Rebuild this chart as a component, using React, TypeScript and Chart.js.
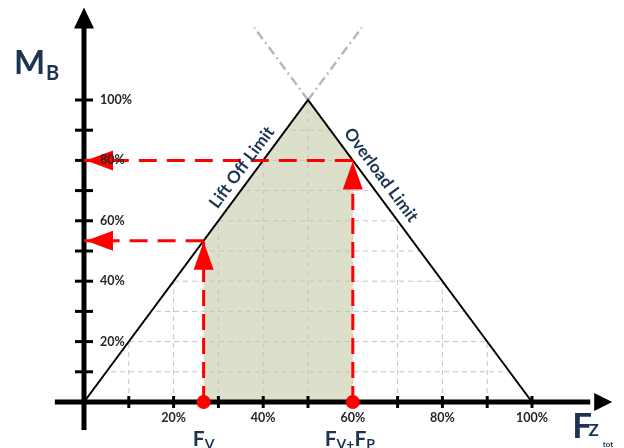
import React, { useEffect, useRef } from 'react';
import Chart from 'chart.js/auto';

// ---- data ----
const xTickMarks = [10, 20, 30, 40, 50, 60, 70, 80, 90, 100];
const yTickMarks = [10, 20, 30, 40, 50, 60, 70, 80, 90, 100];
const xLabelValues = [20, 40, 60, 80, 100];
const xLabels = ['20%', '40%', '60%', '80%', '100%'];
const yLabelValues = [20, 40, 60, 80, 100];
const yLabels = ['20%', '40%', '60%', '80%', '100%'];
const gridX = [10, 20, 30, 40, 50, 60, 70, 80, 90];
const gridY = [10, 20, 30, 40, 50, 60, 70, 80, 90];

const limitTriangle = [
  { x: 0, y: 0 },
  { x: 50, y: 100 },
  { x: 100, y: 0 },
];
const liftOffExtension = [
  { x: 50, y: 100 },
  { x: 62, y: 124 },
];
const overloadExtension = [
  { x: 50, y: 100 },
  { x: 38, y: 124 },
];

const fv = 26.7;
const fvMoment = 53.4;
const fvp = 60;
const fvpMoment = 80;

const shadedArea = [
  { x: fv, y: 0 },
  { x: fv, y: fvMoment },
  { x: 50, y: 100 },
  { x: fvp, y: fvpMoment },
  { x: fvp, y: 0 },
];
const fvVertical = [
  { x: fv, y: 0 },
  { x: fv, y: fvMoment },
];
const fvHorizontal = [
  { x: fv, y: fvMoment },
  { x: 0, y: fvMoment },
];
const fvpVertical = [
  { x: fvp, y: 0 },
  { x: fvp, y: fvpMoment },
];
const fvpHorizontal = [
  { x: fvp, y: fvpMoment },
  { x: 0, y: fvpMoment },
];
const loadDots = [
  { x: fv, y: 0 },
  { x: fvp, y: 0 },
];

const liftOffLabelAt = { x: 37.55, y: 75.1 };
const overloadLabelAt = { x: 63.8, y: 72.4 };

const NAVY = '#1c3352';
const RED = '#ff0000';
const LABEL_FONT = 'Lato, "Open Sans", sans-serif';

export default function App() {
  const ref = useRef<HTMLCanvasElement | null>(null);

  useEffect(() => {
    document.body.style.margin = '0';
    const canvas = ref.current;
    if (!canvas) return;

    const decor = {
      id: 'decor',
      afterDatasetDraw(chart: any, args: any) {
        const ctx = chart.ctx;
        const xs = chart.scales.x;
        const ys = chart.scales.y;
        const px = (v: number) => xs.getPixelForValue(v);
        const py = (v: number) => ys.getPixelForValue(v);
        if (args.index === 0) {
          // grid, clipped to triangle
          ctx.save();
          ctx.beginPath();
          ctx.moveTo(px(limitTriangle[0].x), py(limitTriangle[0].y));
          for (const p of limitTriangle.slice(1)) ctx.lineTo(px(p.x), py(p.y));
          ctx.closePath();
          ctx.clip();
          ctx.strokeStyle = '#c4c4c4';
          ctx.lineWidth = 1;
          ctx.setLineDash([5, 4]);
          for (const g of gridX) {
            ctx.beginPath();
            ctx.moveTo(px(g), py(0));
            ctx.lineTo(px(g), py(100));
            ctx.stroke();
          }
          for (const g of gridY) {
            ctx.beginPath();
            ctx.moveTo(px(0), py(g));
            ctx.lineTo(px(100), py(g));
            ctx.stroke();
          }
          ctx.restore();
        }
        if (args.index === 1) {
          // axes
          ctx.save();
          ctx.fillStyle = '#000';
          ctx.strokeStyle = '#000';
          ctx.setLineDash([]);
          const x0 = px(0);
          const y0 = py(0);
          // y axis
          ctx.lineWidth = 5;
          ctx.beginPath();
          ctx.moveTo(x0, py(-9.3));
          ctx.lineTo(x0, py(124));
          ctx.stroke();
          const yTip = py(130.6);
          ctx.beginPath();
          ctx.moveTo(x0, yTip);
          ctx.lineTo(x0 - 10, yTip + 21);
          ctx.lineTo(x0 + 10, yTip + 21);
          ctx.closePath();
          ctx.fill();
          // x axis
          ctx.beginPath();
          ctx.moveTo(px(-6.5), y0);
          ctx.lineTo(px(113), y0);
          ctx.stroke();
          const xTip = px(117.9);
          ctx.beginPath();
          ctx.moveTo(xTip, y0);
          ctx.lineTo(xTip - 18, y0 - 9);
          ctx.lineTo(xTip - 18, y0 + 9);
          ctx.closePath();
          ctx.fill();
          // tick marks
          ctx.lineWidth = 3;
          for (const t of xTickMarks) {
            ctx.beginPath();
            ctx.moveTo(px(t), y0 - 6);
            ctx.lineTo(px(t), y0 + 6);
            ctx.stroke();
          }
          for (const t of yTickMarks) {
            ctx.beginPath();
            ctx.moveTo(x0 - 9, py(t));
            ctx.lineTo(x0 + 9, py(t));
            ctx.stroke();
          }
          ctx.restore();
        }
      },
      afterDatasetsDraw(chart: any) {
        const ctx = chart.ctx;
        const xs = chart.scales.x;
        const ys = chart.scales.y;
        const px = (v: number) => xs.getPixelForValue(v);
        const py = (v: number) => ys.getPixelForValue(v);
        ctx.save();
        ctx.setLineDash([]);
        // red arrowheads
        ctx.fillStyle = RED;
        const upArrow = (x: number, y: number) => {
          ctx.beginPath();
          ctx.moveTo(px(x), py(y) + 1);
          ctx.lineTo(px(x) - 10, py(y) + 29);
          ctx.lineTo(px(x) + 10, py(y) + 29);
          ctx.closePath();
          ctx.fill();
        };
        const leftArrow = (y: number) => {
          const tx = px(0) + 2;
          ctx.beginPath();
          ctx.moveTo(tx, py(y));
          ctx.lineTo(tx + 27, py(y) - 10);
          ctx.lineTo(tx + 27, py(y) + 10);
          ctx.closePath();
          ctx.fill();
        };
        upArrow(fv, fvMoment);
        upArrow(fvp, fvpMoment);
        leftArrow(fvMoment);
        leftArrow(fvpMoment);

        // tick labels
        ctx.fillStyle = '#262626';
        ctx.font = `bold 12.5px ${LABEL_FONT}`;
        ctx.textAlign = 'left';
        ctx.textBaseline = 'middle';
        yLabelValues.forEach((v, i) => ctx.fillText(yLabels[i], px(0) + 16, py(v)));
        ctx.textAlign = 'center';
        ctx.textBaseline = 'top';
        xLabelValues.forEach((v, i) => ctx.fillText(xLabels[i], px(v), py(0) + 10));

        // limit labels along the lines
        const drawAlong = (text: string, at: { x: number; y: number }, a: any, b: any, off: number) => {
          const dx = px(b.x) - px(a.x);
          const dy = py(b.y) - py(a.y);
          const ang = Math.atan2(dy, dx);
          const len = Math.hypot(dx, dy);
          const nx = dy / len;
          const ny = -dx / len;
          ctx.save();
          ctx.translate(px(at.x) + nx * off, py(at.y) + ny * off);
          ctx.rotate(ang);
          ctx.fillStyle = NAVY;
          ctx.font = `bold 17px ${LABEL_FONT}`;
          ctx.textAlign = 'center';
          ctx.textBaseline = 'middle';
          ctx.fillText(text, 0, 0);
          ctx.restore();
        };
        drawAlong('Lift Off Limit', liftOffLabelAt, limitTriangle[0], limitTriangle[1], 13);
        drawAlong('Overload Limit', overloadLabelAt, limitTriangle[1], limitTriangle[2], 14);

        // axis titles
        ctx.fillStyle = NAVY;
        ctx.textAlign = 'left';
        ctx.textBaseline = 'alphabetic';
        const x0 = px(0);
        const y0 = py(0);
        ctx.font = `bold 33px ${LABEL_FONT}`;
        ctx.fillText('M', x0 - 70, 74);
        ctx.font = `bold 20px ${LABEL_FONT}`;
        ctx.fillText('B', x0 - 38, 80);

        ctx.font = `bold 35px ${LABEL_FONT}`;
        ctx.fillText('F', px(109.0), y0 + 36);
        ctx.font = `bold 17px ${LABEL_FONT}`;
        ctx.fillText('Z', px(112.6), y0 + 34);
        ctx.font = `bold 8px ${LABEL_FONT}`;
        ctx.fillText('tot', px(115.8), y0 + 45);

        const sub = (parts: [string, number][], cx: number, base: number) => {
          let w = 0;
          for (const [t, s] of parts) {
            ctx.font = `bold ${s}px ${LABEL_FONT}`;
            w += ctx.measureText(t).width;
          }
          let x = cx - w / 2;
          for (const [t, s] of parts) {
            ctx.font = `bold ${s}px ${LABEL_FONT}`;
            ctx.fillText(t, x, base + (s < 18 ? 3 : 0));
            x += ctx.measureText(t).width;
          }
        };
        sub([['F', 21], ['V', 14]], px(fv), y0 + 44);
        sub([['F', 21], ['V+', 14], ['F', 21], ['P', 14]], px(fvp) - 3, y0 + 44);
        ctx.restore();
      },
    };

    const line = (data: any, extra: any) => ({
      data,
      showLine: true,
      pointRadius: 0,
      fill: false,
      ...extra,
    });

    const chart = new Chart(canvas, {
      type: 'scatter',
      data: {
        datasets: [
          line(shadedArea, {
            fill: 'origin',
            backgroundColor: '#dcdfca',
            borderWidth: 0,
            borderColor: 'rgba(0,0,0,0)',
            order: 10,
          }),
          line(limitTriangle, { borderColor: '#000', borderWidth: 2, order: 6 }),
          line(liftOffExtension, { borderColor: '#b8b8b8', borderWidth: 2.5, borderDash: [9, 4, 2, 4], order: 8 }),
          line(overloadExtension, { borderColor: '#b8b8b8', borderWidth: 2.5, borderDash: [9, 4, 2, 4], order: 8 }),
          line(fvVertical, { borderColor: RED, borderWidth: 3, borderDash: [16, 8], order: 3 }),
          line(fvHorizontal, { borderColor: RED, borderWidth: 3, borderDash: [18, 10], order: 3 }),
          line(fvpVertical, { borderColor: RED, borderWidth: 3, borderDash: [16, 8], order: 3 }),
          line(fvpHorizontal, { borderColor: RED, borderWidth: 3, borderDash: [18, 10], order: 3 }),
          {
            data: loadDots,
            showLine: false,
            pointRadius: 7,
            pointBackgroundColor: RED,
            pointBorderWidth: 0,
            order: 1,
          },
        ],
      },
      options: {
        responsive: false,
        animation: false,
        events: [],
        layout: { padding: 0, autoPadding: false },
        plugins: { legend: { display: false }, tooltip: { enabled: false } },
        scales: {
          x: { type: 'linear', min: -18.75, max: 120.536, display: false },
          y: { type: 'linear', min: -15.23, max: 133.11, display: false },
        },
      },
      plugins: [decor],
    } as any);

    return () => chart.destroy();
  }, []);

  return (
    <div style={{ position: 'absolute', left: 0, top: 0, width: 624, height: 448, background: '#fff' }}>
      <canvas ref={ref} width={624} height={448} style={{ width: 624, height: 448 }} />
    </div>
  );
}
